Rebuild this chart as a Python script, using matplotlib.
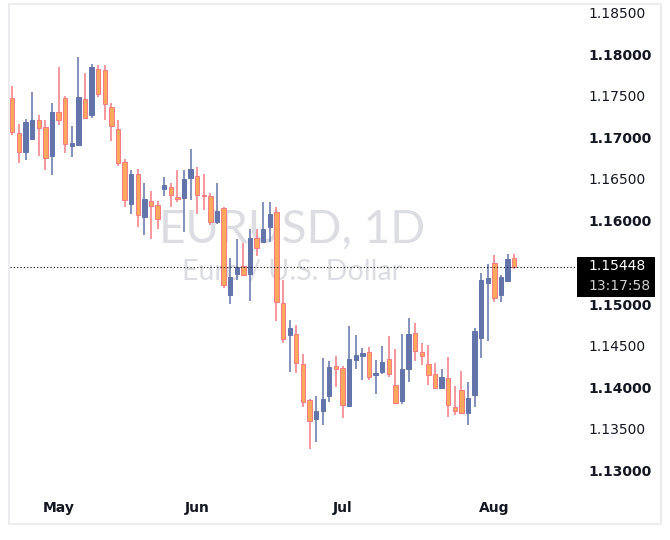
import matplotlib.pyplot as plt
from matplotlib.patches import Rectangle

# EURUSD daily candles
opens = [1.17468, 1.17048, 1.16828, 1.16984, 1.17208, 1.17120, 1.16780, 1.17304, 1.17468, 1.16900,
         1.16912, 1.17456, 1.17272, 1.17816, 1.17804, 1.17360, 1.17096, 1.16700, 1.16196, 1.16556,
         1.16048, 1.16232, 1.16184, 1.16384, 1.16404, 1.16284, 1.16276, 1.16516, 1.16536, 1.16308,
         1.16296, 1.15988, 1.16152, 1.15112, 1.15364, 1.15452, 1.15364, 1.15788, 1.15748, 1.15924,
         1.16100, 1.15012, 1.14632, 1.14636, 1.14276, 1.13844, 1.13624, 1.13720, 1.13900, 1.14256,
         1.14232, 1.13780, 1.14332, 1.14380, 1.14420, 1.14144, 1.14188, 1.14340, 1.14028, 1.13840,
         1.14224, 1.14648, 1.14420, 1.14276, 1.14156, 1.13988, 1.14112, 1.13760, 1.13964, 1.13688,
         1.13904, 1.14596, 1.15256, 1.15488, 1.15112, 1.15280, 1.15548]
highs = [1.17616, 1.17160, 1.17224, 1.17544, 1.17268, 1.17208, 1.17412, 1.17844, 1.17496, 1.17136,
         1.17964, 1.17772, 1.17880, 1.17868, 1.17868, 1.17412, 1.17208, 1.16740, 1.16608, 1.16620,
         1.16452, 1.16356, 1.16232, 1.16524, 1.16456, 1.16608, 1.16608, 1.16860, 1.16644, 1.16560,
         1.16332, 1.16452, 1.16160, 1.15556, 1.15780, 1.15732, 1.15900, 1.15900, 1.16224, 1.16224,
         1.16164, 1.15288, 1.14808, 1.14744, 1.14400, 1.13856, 1.13896, 1.14356, 1.14316, 1.14376,
         1.14256, 1.14732, 1.14628, 1.14468, 1.14484, 1.14328, 1.14496, 1.14616, 1.14464, 1.14640,
         1.14832, 1.14772, 1.14528, 1.14504, 1.14288, 1.14220, 1.14364, 1.14016, 1.14196, 1.14064,
         1.14712, 1.15372, 1.15480, 1.15588, 1.15348, 1.15600, 1.15600]
lows = [1.17032, 1.16696, 1.16732, 1.16980, 1.16780, 1.16612, 1.16548, 1.17152, 1.16816, 1.16768,
        1.16912, 1.17228, 1.17236, 1.17480, 1.17212, 1.16960, 1.16660, 1.16168, 1.16084, 1.15928,
        1.15832, 1.15776, 1.15896, 1.16300, 1.16168, 1.16228, 1.15868, 1.16248, 1.16076, 1.16128,
        1.15952, 1.15956, 1.15188, 1.15004, 1.15284, 1.15344, 1.15040, 1.15580, 1.15736, 1.15748,
        1.14796, 1.14528, 1.14188, 1.14168, 1.13768, 1.13264, 1.13348, 1.13548, 1.13828, 1.14008,
        1.13636, 1.13768, 1.14224, 1.14092, 1.14092, 1.13924, 1.14156, 1.14128, 1.13796, 1.13796,
        1.14068, 1.14320, 1.14264, 1.14032, 1.13988, 1.13988, 1.13648, 1.13664, 1.13688, 1.13552,
        1.13760, 1.14356, 1.14560, 1.15020, 1.15028, 1.15280, 1.15424]
closes = [1.17060, 1.16820, 1.17184, 1.17208, 1.17116, 1.16748, 1.17304, 1.17204, 1.16916, 1.16932,
          1.17484, 1.17228, 1.17844, 1.17516, 1.17396, 1.17132, 1.16688, 1.16244, 1.16556, 1.16064,
          1.16256, 1.16176, 1.16016, 1.16428, 1.16312, 1.16256, 1.16500, 1.16620, 1.16312, 1.16300,
          1.15980, 1.16116, 1.15224, 1.15324, 1.15448, 1.15352, 1.15792, 1.15668, 1.15900, 1.16080,
          1.15020, 1.14576, 1.14712, 1.14288, 1.13820, 1.13592, 1.13716, 1.13860, 1.14244, 1.14216,
          1.13784, 1.14340, 1.14388, 1.14412, 1.14120, 1.14172, 1.14304, 1.14156, 1.13808, 1.14220,
          1.14640, 1.14432, 1.14380, 1.14144, 1.13988, 1.14124, 1.13784, 1.13712, 1.13688, 1.13868,
          1.14676, 1.15288, 1.15312, 1.15076, 1.15324, 1.15540, 1.15448]

month_labels = ["May", "Jun", "Jul", "Aug"]
month_start_bar = [7, 28, 50, 73]

last_price = 1.15448
countdown = "13:17:58"
# 1.15500 sits under the last-price box, so it is not labelled
price_ticks = [1.130, 1.135, 1.140, 1.145, 1.150, 1.160, 1.165, 1.170, 1.175, 1.180, 1.185]

W, H = 670, 540
fig = plt.figure(figsize=(W / 100, H / 100), dpi=100)


def fx(px):
    return px / W


def fy(py):
    return 1 - py / H


ax = fig.add_axes([fx(10), fy(490), fx(575) - fx(10), fy(4) - fy(490)])
ax.set_xlim(-0.35, 85.2)
ax.set_ylim(1.12768, 1.18600)

blue = "#6274aa"
pink = "#f67a84"
orange = "#fba85c"

x = list(range(len(opens)))
up = [c >= o for o, c in zip(opens, closes)]
wick_colors = [blue if u else pink for u in up]
face_colors = [blue if u else orange for u in up]

ax.vlines(x, lows, highs, colors=wick_colors, linewidth=1.1, zorder=2)
bottoms = [min(o, c) for o, c in zip(opens, closes)]
heights = [max(abs(c - o), 0.00008) for o, c in zip(opens, closes)]
ax.bar(x, heights, bottom=bottoms, width=0.66, color=face_colors,
       edgecolor=wick_colors, linewidth=0.7, zorder=3)

# current price line
ax.axhline(last_price, color="black", linestyle=(0, (1, 2)), linewidth=0.8, zorder=4)

# watermark
ax.text(fx(292.5), fy(242.7), "EURUSD, 1D", transform=fig.transFigure,
        ha="center", va="baseline", fontsize=33, color="#dcdde2",
        family=["Lato", "DejaVu Sans"], zorder=0)
ax.text(fx(291.5), fy(280), "Euro / U.S. Dollar", transform=fig.transFigure,
        ha="center", va="baseline", fontsize=20.5, color="#dcdde2",
        family=["Lato", "DejaVu Sans"], zorder=0)

# axes styling
for s in ax.spines.values():
    s.set_visible(False)
ax.set_xticks(month_start_bar, month_labels)
ax.yaxis.tick_right()
ax.set_yticks(price_ticks, [f"{p:.5f}" for p in price_ticks])
ax.tick_params(axis="both", length=0, labelsize=10, labelcolor="#131722")
ax.tick_params(axis="y", pad=9.5)
ax.tick_params(axis="x", pad=8)
for lab, p in zip(ax.get_yticklabels(), price_ticks):
    if round(p * 1000) % 10 == 0:
        lab.set_fontweight("bold")
for lab in ax.get_xticklabels():
    lab.set_fontweight("bold")

# last price box
fig.add_artist(Rectangle((fx(577), fy(297)), fx(655) - fx(577), 40 / H,
                         transform=fig.transFigure, facecolor="black",
                         edgecolor="none", zorder=5))
fig.text(fx(588), fy(266), f"{last_price:.5f}", color="white", fontsize=10,
         va="center", ha="left", zorder=6)
fig.text(fx(588), fy(286), countdown, color="#cfcfcf", fontsize=10,
         va="center", ha="left", zorder=6)

# outer frame
fig.add_artist(Rectangle((fx(9), fy(524)), fx(661) - fx(9), 520 / H,
                         transform=fig.transFigure, fill=False,
                         edgecolor="#ececef", linewidth=1.5))

fig.savefig("out.png", dpi=100)
